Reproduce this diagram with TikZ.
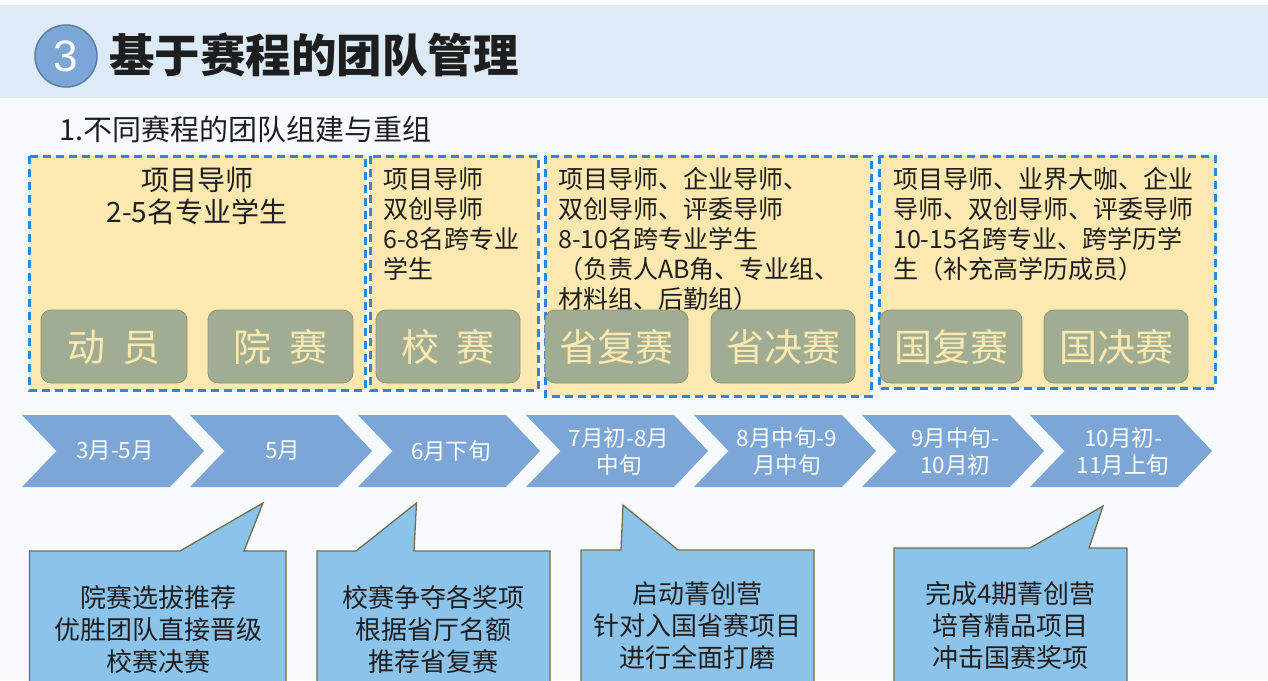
\documentclass[tikz,border=0pt]{standalone}
\usepackage{fontspec}
\setmainfont{Noto Sans CJK SC}
\newfontfamily\latin{Liberation Sans}
\definecolor{bg}{HTML}{F8FBFE}
\definecolor{band}{HTML}{DDEBF8}
\definecolor{circ}{HTML}{7BA6D6}
\definecolor{circd}{HTML}{5B7FA8}
\definecolor{boxfill}{HTML}{FDE9B0}
\definecolor{dashc}{HTML}{2C86DC}
\definecolor{btn}{HTML}{A1AD92}
\definecolor{btnd}{HTML}{8B9677}
\definecolor{chev}{HTML}{7BA6D6}
\definecolor{call}{HTML}{8CC3EA}
\definecolor{calld}{HTML}{6E6E50}
\definecolor{ink}{HTML}{1E1E1E}
\begin{document}
\begin{tikzpicture}[x=1pt,y=-1pt,
  grp/.style={fill=boxfill,draw=dashc,line width=3pt,dash pattern=on 8pt off 5pt},
  btnbox/.style={fill=btn,draw=btnd,line width=0.8pt,rounded corners=10pt},
  btntext/.style={text=boxfill,font=\fontsize{38}{40}\selectfont,inner sep=0pt},
  grptext/.style={text=ink,font=\fontsize{25}{30}\selectfont,inner sep=0pt,align=left,anchor=north west},
  chevshape/.style={fill=chev},
  chevtext/.style={text=white,font=\fontsize{22.5}{27}\selectfont,inner sep=0pt,align=center},
  callshape/.style={fill=call,draw=calld,line width=1.3pt},
  calltext/.style={text=ink,font=\fontsize{26}{32}\selectfont,inner sep=0pt,align=center,anchor=north}
]
\useasboundingbox (0,0) rectangle (1268,680);
\clip (0,0) rectangle (1268,680);
\fill[bg] (0,0) rectangle (1268,680);
\fill[white] (0,0) rectangle (1268,5);
\fill[band] (0,5) rectangle (1268,98);

% header
\node[circle,fill=circ,draw=circd,line width=1.5pt,minimum size=62pt,inner sep=0pt,text=white,font=\latin\fontsize{44}{44}\selectfont] (num) at (66,56) {3};
\node[anchor=west,inner sep=0pt,text=ink,font=\bfseries\fontsize{45.5}{45.5}\selectfont] (title) at (109,55) {基于赛程的团队管理};
\node[anchor=west,inner sep=0pt,text=ink,font=\fontsize{29}{29}\selectfont] (sub) at (59,129) {1.不同赛程的团队组建与重组};

% group boxes
\draw[grp] (29,156) rectangle (365,390);
\draw[grp] (370,156) rectangle (538,390);
\draw[grp] (545,156) rectangle (871,396);
\draw[grp] (879,156) rectangle (1215,388);

\node[text=ink,font=\fontsize{28}{32}\selectfont,inner sep=0pt,align=center,anchor=north] (g1) at (197,167) {项目导师\\2-5名专业学生};
\node[grptext] (g2) at (383,167) {项目导师\\双创导师\\6-8名跨专业\\学生};
\node[grptext] (g3) at (558,167) {项目导师、企业导师、\\双创导师、评委导师\\8-10名跨专业学生\\（负责人AB角、专业组、\\材料组、后勤组）};
\node[grptext] (g4) at (893,167) {项目导师、业界大咖、企业\\导师、双创导师、评委导师\\10-15名跨专业、跨学历学\\生（补充高学历成员）};

% stage buttons
\draw[btnbox] (41,310) rectangle (187,383);
\node[btntext] (b1) at (114,347) {动\hspace{0.45em}员};
\draw[btnbox] (208,310) rectangle (353,383);
\node[btntext] (b2) at (280.5,347) {院\hspace{0.45em}赛};
\draw[btnbox] (376,310) rectangle (520,383);
\node[btntext] (b3) at (448,347) {校\hspace{0.45em}赛};
\draw[btnbox] (545,310) rectangle (688,383);
\node[btntext] (b4) at (616.5,347) {省复赛};
\draw[btnbox] (711,310) rectangle (855,383);
\node[btntext] (b5) at (783,347) {省决赛};
\draw[btnbox] (880,310) rectangle (1022,383);
\node[btntext] (b6) at (951,347) {国复赛};
\draw[btnbox] (1044,310) rectangle (1188,383);
\node[btntext] (b7) at (1116,347) {国决赛};

% chevrons
\foreach \L in {22,190,358,526,694,862,1030}{
  \fill[chevshape] (\L,415) -- (\L+148,415) -- (\L+182,451) -- (\L+148,487) -- (\L,487) -- (\L+34.5,451) -- cycle;
}
\node[chevtext] (c1) at (115,451) {3月-5月};
\node[chevtext] (c2) at (283,451) {5月};
\node[chevtext] (c3) at (451,451) {6月下旬};
\node[chevtext] (c4) at (619,451) {7月初-8月\\中旬};
\node[chevtext] (c5) at (787,451) {8月中旬-9\\月中旬};
\node[chevtext] (c6) at (955,451) {9月中旬-\\10月初};
\node[chevtext] (c7) at (1123,451) {10月初-\\11月上旬};

% callouts
\draw[callshape] (29.5,551) -- (180,551) -- (263,503) -- (244,551) -- (286,551) -- (286,700) -- (29.5,700) -- cycle;
\draw[callshape] (317,551) -- (356,551) -- (416.5,503) -- (414,551) -- (550,551) -- (550,700) -- (317,700) -- cycle;
\draw[callshape] (581,550) -- (621,550) -- (623,505) -- (678,550) -- (814,550) -- (814,700) -- (581,700) -- cycle;
\draw[callshape] (894,548) -- (1030,548) -- (1103,506) -- (1089,548) -- (1127,548) -- (1127,700) -- (894,700) -- cycle;

\node[calltext] (t1) at (158,585) {院赛选拔推荐\\优胜团队直接晋级\\校赛决赛};
\node[calltext] (t2) at (433.5,585) {校赛争夺各奖项\\根据省厅名额\\推荐省复赛};
\node[calltext] (t3) at (697.5,581) {启动菁创营\\针对入国省赛项目\\进行全面打磨};
\node[calltext] (t4) at (1010.5,581) {完成4期菁创营\\培育精品项目\\冲击国赛奖项};
\end{tikzpicture}
\end{document}
